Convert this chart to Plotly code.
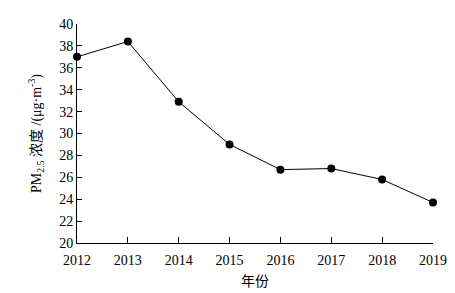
import plotly.graph_objects as go

years = [2012, 2013, 2014, 2015, 2016, 2017, 2018, 2019]
pm25 = [37.0, 38.4, 32.9, 29.0, 26.7, 26.8, 25.8, 23.7]
y_ticks = [20, 22, 24, 26, 28, 30, 32, 34, 36, 38, 40]

font_fam = "Liberation Serif, Times New Roman, Noto Sans CJK SC, serif"

fig = go.Figure(go.Scatter(
    x=years, y=pm25, mode="lines+markers",
    line=dict(color="black", width=1),
    marker=dict(color="black", size=8),
    cliponaxis=False,
))

# page body has an 8px default margin, so the figure is shrunk by 8px
fig.update_layout(
    width=447, height=285,
    margin=dict(l=69, r=22, t=16, b=50),
    paper_bgcolor="white", plot_bgcolor="white",
    showlegend=False,
    font=dict(family=font_fam, size=14, color="black"),
    xaxis=dict(
        range=[2012, 2019], tickvals=years, ticktext=[str(y) for y in years],
        showgrid=False, zeroline=False, showline=True, linecolor="black", linewidth=1,
        ticks="inside", ticklen=6, tickcolor="black", automargin=False,
        ticklabelstandoff=4,
        title=dict(text="年份", standoff=9, font=dict(size=14)),
    ),
    yaxis=dict(
        range=[20, 40], tickvals=y_ticks,
        showgrid=False, zeroline=False, showline=True, linecolor="black", linewidth=1,
        ticks="inside", ticklen=5, tickcolor="black", automargin=False,
        title=dict(text="PM<sub>2.5</sub> 浓度 /(μg·m<sup>-3</sup>)", standoff=14, font=dict(size=14)),
    ),
)

fig.write_html("out.html")
